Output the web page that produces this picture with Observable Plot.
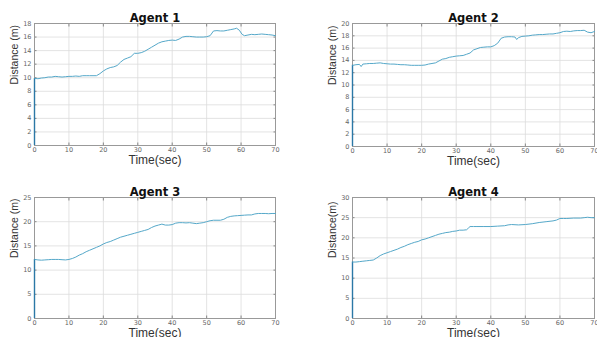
<!DOCTYPE html>
<html>
<head>
<meta charset="utf-8">
<script src="https://cdn.jsdelivr.net/npm/d3@7"></script>
<script src="https://cdn.jsdelivr.net/npm/@observablehq/plot@0.6"></script>
<style>
  html, body { margin: 0; padding: 0; background: #fff; overflow: hidden; }
  #wrap { position: relative; width: 597px; height: 337px; overflow: hidden; }
  .panel { position: absolute; }
  .panel svg { overflow: visible; }
</style>
</head>
<body>
<div id="wrap"></div>
<script>
// ---- data ----
const xTicks = [0, 10, 20, 30, 40, 50, 60, 70];

const agent1Time = [0, 0.1, 1, 2, 3, 4, 5, 6, 7, 8, 9, 10, 11, 12, 13, 14, 15, 16, 17, 18, 19, 20, 21, 22, 23, 24, 25, 26, 27, 28, 29, 30, 31, 32, 33, 34, 35, 36, 37, 38, 39, 40, 41, 42, 43, 44, 45, 46, 47, 48, 49, 50, 51, 52, 53, 54, 55, 56, 57, 58, 58.7, 59.5, 60.3, 61, 62, 63, 64, 65, 66, 67, 68, 69, 70];
const agent1Dist = [0, 9.9, 9.85, 9.95, 10.0, 10.1, 10.1, 10.2, 10.15, 10.1, 10.15, 10.2, 10.2, 10.25, 10.2, 10.3, 10.3, 10.3, 10.3, 10.3, 10.6, 11.0, 11.3, 11.5, 11.6, 11.8, 12.3, 12.7, 12.9, 13.1, 13.6, 13.6, 13.7, 13.9, 14.2, 14.5, 14.8, 15.1, 15.3, 15.4, 15.5, 15.55, 15.5, 15.7, 16.0, 16.1, 16.1, 16.05, 16.0, 16.0, 16.0, 16.05, 16.2, 16.9, 16.95, 16.9, 16.9, 17.0, 17.1, 17.2, 17.3, 17.0, 16.4, 16.2, 16.3, 16.4, 16.35, 16.4, 16.45, 16.4, 16.35, 16.3, 16.2];
const agent1YTicks = [0, 2, 4, 6, 8, 10, 12, 14, 16, 18];

const agent2Time = [0, 0.1, 1, 2, 2.5, 3, 4, 5, 6, 7, 8, 9, 10, 11, 12, 13, 14, 15, 16, 17, 18, 19, 20, 21, 22, 23, 24, 25, 26, 27, 28, 29, 30, 31, 32, 33, 34, 35, 36, 37, 38, 39, 40, 41, 42, 43, 44, 45, 46, 47, 47.5, 48, 49, 50, 51, 52, 53, 54, 55, 56, 57, 58, 59, 60, 61, 62, 63, 64, 65, 66, 67, 68, 69, 70];
const agent2Dist = [0, 13.2, 13.3, 13.35, 13.0, 13.4, 13.45, 13.5, 13.5, 13.55, 13.6, 13.5, 13.45, 13.4, 13.4, 13.35, 13.3, 13.3, 13.25, 13.2, 13.2, 13.2, 13.2, 13.25, 13.4, 13.5, 13.6, 13.9, 14.2, 14.3, 14.5, 14.6, 14.7, 14.75, 14.8, 15.0, 15.2, 15.7, 15.9, 16.1, 16.15, 16.2, 16.2, 16.4, 16.8, 17.6, 17.8, 17.85, 17.85, 17.8, 17.4, 17.7, 17.9, 17.95, 18.0, 18.1, 18.15, 18.2, 18.2, 18.25, 18.3, 18.3, 18.4, 18.5, 18.7, 18.75, 18.7, 18.8, 18.85, 18.85, 18.9, 18.6, 18.5, 18.7];
const agent2YTicks = [0, 2, 4, 6, 8, 10, 12, 14, 16, 18, 20];

const agent3Time = [0, 0.1, 1, 2, 3, 4, 5, 6, 7, 8, 9, 10, 11, 12, 13, 14, 15, 16, 17, 18, 19, 20, 21, 22, 23, 24, 25, 26, 27, 28, 29, 30, 31, 32, 33, 34, 35, 36, 37, 38, 39, 40, 41, 42, 43, 44, 45, 46, 47, 48, 49, 50, 51, 52, 53, 54, 55, 56, 57, 58, 59, 60, 61, 62, 63, 64, 65, 66, 67, 68, 69, 70];
const agent3Dist = [0, 12.2, 12.1, 12.05, 12.1, 12.15, 12.2, 12.2, 12.2, 12.15, 12.1, 12.2, 12.4, 12.7, 13.1, 13.4, 13.8, 14.1, 14.4, 14.7, 15.0, 15.4, 15.7, 15.9, 16.2, 16.5, 16.8, 17.0, 17.2, 17.4, 17.6, 17.8, 18.0, 18.2, 18.4, 18.8, 19.1, 19.3, 19.5, 19.3, 19.3, 19.4, 19.7, 19.8, 19.8, 19.75, 19.8, 19.7, 19.6, 19.7, 19.8, 20.0, 20.2, 20.3, 20.3, 20.3, 20.5, 20.9, 21.1, 21.2, 21.25, 21.3, 21.35, 21.4, 21.4, 21.6, 21.7, 21.7, 21.7, 21.65, 21.7, 21.7];
const agent3YTicks = [0, 5, 10, 15, 20, 25];

const agent4Time = [0, 0.1, 1, 2, 3, 4, 5, 6, 7, 8, 9, 10, 11, 12, 13, 14, 15, 16, 17, 18, 19, 20, 21, 22, 23, 24, 25, 26, 27, 28, 29, 30, 31, 32, 33, 33.5, 34, 35, 36, 38, 40, 42, 44, 45, 46, 48, 50, 52, 54, 56, 58, 59, 60, 61, 62, 64, 66, 67, 68, 69, 70];
const agent4Dist = [0, 14.0, 14.0, 14.1, 14.2, 14.3, 14.4, 14.5, 15.0, 15.6, 16.0, 16.3, 16.6, 16.9, 17.2, 17.6, 17.9, 18.3, 18.6, 18.9, 19.1, 19.5, 19.7, 20.0, 20.3, 20.6, 20.9, 21.1, 21.3, 21.4, 21.6, 21.7, 21.9, 21.9, 22.0, 22.4, 22.8, 22.8, 22.8, 22.8, 22.8, 22.9, 23.0, 23.2, 23.3, 23.2, 23.3, 23.5, 23.8, 24.0, 24.2, 24.4, 24.8, 24.8, 24.8, 24.9, 24.9, 25.0, 25.1, 25.0, 25.0];
const agent4YTicks = [0, 5, 10, 15, 20, 25, 30];

const titles = ["Agent 1", "Agent 2", "Agent 3", "Agent 4"];
const xLabel = "Time(sec)";
const yLabels = ["Distance (m)", "Distance (m)", "Distance (m)", "Distance(m)"];

// ---- layout ----
const panels = [
  {time: agent1Time, dist: agent1Dist, yTicks: agent1YTicks, left: 0,   top: 0,   width: 298, height: 168, ml: 34, mr: 23, mt: 23, mb: 23},
  {time: agent2Time, dist: agent2Dist, yTicks: agent2YTicks, left: 298, top: 0,   width: 299, height: 168, ml: 54, mr: 3,  mt: 23, mb: 22},
  {time: agent3Time, dist: agent3Dist, yTicks: agent3YTicks, left: 0,   top: 168, width: 298, height: 169, ml: 34, mr: 23, mt: 29, mb: 19},
  {time: agent4Time, dist: agent4Dist, yTicks: agent4YTicks, left: 298, top: 168, width: 299, height: 169, ml: 54, mr: 3,  mt: 29, mb: 19}
];

const wrap = document.getElementById("wrap");
const tickFont = "DejaVu Sans, sans-serif";
const labelFont = "Liberation Sans, Arial, sans-serif";

panels.forEach((p, i) => {
  const rows = p.time.map((t, k) => ({t, d: p.dist[k]}));
  const yMax = p.yTicks[p.yTicks.length - 1];
  const chart = Plot.plot({
    width: p.width,
    height: p.height,
    marginLeft: p.ml,
    marginRight: p.mr,
    marginTop: p.mt,
    marginBottom: p.mb,
    style: {background: "transparent", overflow: "visible"},
    x: {domain: [0, 70], ticks: xTicks},
    y: {domain: [0, yMax], ticks: p.yTicks},
    marks: [
      Plot.gridX(xTicks, {stroke: "#dcdcdc", strokeOpacity: 1, strokeWidth: 0.8}),
      Plot.gridY(p.yTicks, {stroke: "#dcdcdc", strokeOpacity: 1, strokeWidth: 0.8}),
      Plot.axisX(xTicks, {anchor: "bottom", tickSize: 0, tickPadding: 1.5, fontSize: 6.5, fontFamily: tickFont, color: "#666", label: null}),
      Plot.axisY(p.yTicks, {anchor: "left", tickSize: 0, tickPadding: 3, fontSize: 6.5, fontFamily: tickFont, color: "#666", label: null}),
      Plot.axisX(xTicks, {anchor: "bottom", tickSize: -2.5, tickFormat: () => "", stroke: "#888", label: null}),
      Plot.axisX(xTicks, {anchor: "top", tickSize: -2.5, tickFormat: () => "", stroke: "#888", label: null}),
      Plot.axisY(p.yTicks, {anchor: "left", tickSize: -2.5, tickFormat: () => "", stroke: "#888", label: null}),
      Plot.axisY(p.yTicks, {anchor: "right", tickSize: -2.5, tickFormat: () => "", stroke: "#888", label: null}),
      Plot.frame({stroke: "#999", strokeWidth: 1}),
      Plot.ruleX([rows[1]], {x: 0, y1: 0, y2: "d", stroke: "#2b78a6", strokeWidth: 1.4}),
      Plot.line(rows.slice(1), {x: "t", y: "d", stroke: "#55a8c9", strokeWidth: 1}),
      Plot.text([titles[i]], {frameAnchor: "top", lineAnchor: "bottom", dy: -2, fontSize: 11.5, fontWeight: "bold", fontFamily: "DejaVu Sans, sans-serif", fill: "#111"}),
      Plot.text([xLabel], {frameAnchor: "bottom", lineAnchor: "middle", dy: 14.5, fontSize: 12, fontFamily: labelFont, fill: "#333"}),
      Plot.text([yLabels[i]], {frameAnchor: "left", rotate: -90, lineAnchor: "middle", dx: -20, fontSize: 10.5, fontFamily: labelFont, fill: "#333"})
    ]
  });
  const div = document.createElement("div");
  div.className = "panel";
  div.style.left = p.left + "px";
  div.style.top = p.top + "px";
  div.style.width = p.width + "px";
  div.style.height = p.height + "px";
  div.appendChild(chart);
  wrap.appendChild(div);
});
</script>
</body>
</html>
